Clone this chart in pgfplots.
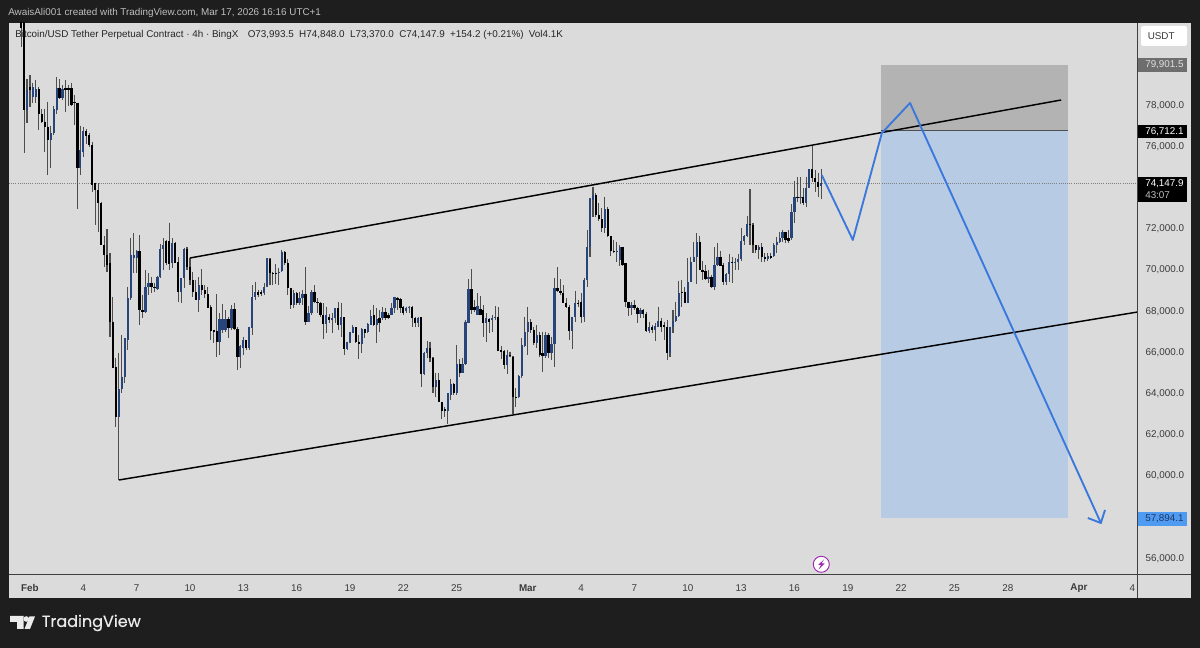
\documentclass[border=0pt]{standalone}
\usepackage{fontspec}
\setmainfont{Liberation Sans}
\newfontfamily\tvfont[FakeBold=0.4]{Poppins}
\usepackage{pgfplots}
\usepackage{pgfplotstable}
\pgfplotsset{compat=1.18}
\definecolor{tvdark}{HTML}{1E1E1E}
\definecolor{panel}{HTML}{DBDBDB}
\definecolor{txt}{HTML}{3A3A3A}
\definecolor{upb}{HTML}{27457A}
\definecolor{wick}{HTML}{4E4E4E}
\definecolor{proj}{HTML}{3A78DC}
\definecolor{zoneg}{HTML}{B3B3B3}
\definecolor{zoneb}{HTML}{B8CBE4}
\definecolor{pbox}{HTML}{6E6E6E}
\definecolor{bbox}{HTML}{4F9BF2}
\definecolor{bolt}{HTML}{9C27B0}
\pgfplotstableread{
i o h l c
0 82400 83000 80784 81700
1 83500 84000 75636 77708
2 77708 79198 77061 78680
3 78809 79392 77870 78680
4 78323 79036 78032 78809
5 78323 79165 78032 78712
6 78712 78842 76737 77514
7 77514 77741 77061 77142
8 77142 77741 75685 76899
9 76899 78113 74551 76251
10 76251 76931 74875 76575
11 76575 77903 76494 77741
12 77708 79295 77514 78761
13 78761 79198 78226 78275
14 78275 78922 78200 78712
15 78761 79165 77627 78680
16 78761 78922 77903 78680
17 78761 79036 77903 77951
18 78113 78437 76980 78032
19 78064 78064 72885 74875
20 74875 76931 74551 75765
21 75685 76899 75442 76705
22 76705 76769 76057 76445
23 76494 76575 75927 76008
24 76008 76170 73742 74065
25 74146 74179 72123 73823
26 73823 74146 71799 73175
27 73175 73256 71151 71151
28 71151 71588 70099 70666
29 70666 71912 69856 70180
30 70261 70779 66699 67428
31 67428 68642 65161 65161
32 65242 65647 62328 62813
33 62813 65922 59738 64141
34 64141 66780 63947 64756
35 64756 66618 64432 66618
36 66537 69127 66051 68561
37 68561 71475 68480 70666
38 70504 71718 69775 70666
39 70504 70908 69775 70860
40 70860 71637 67266 67994
41 67994 68723 67589 67913
42 67913 69937 67865 69127
43 69127 69775 68723 69322
44 69322 69613 68804 69127
45 69127 69290 68885 69047
46 68998 69646 68966 69613
47 69613 71200 69532 70941
48 70941 71475 69937 71151
49 71362 71394 70180 70261
50 71362 72236 69937 70228
51 70261 71475 70018 71265
52 71265 71313 70261 70293
53 70342 70552 68399 68885
54 68885 69532 68318 69532
55 69532 70989 69047 70941
56 70941 71070 69937 70099
57 70099 70504 69208 69451
58 69451 69856 68642 68885
59 68885 69451 68480 68480
60 68480 69581 67913 69208
61 69208 69969 68723 68966
62 68966 69208 68561 68771
63 68771 69127 68075 68075
64 68124 68237 66537 66990
65 67023 67023 66375 66941
66 66990 68771 65695 66456
67 66456 67832 65808 67541
68 67023 68286 66861 67541
69 67023 67994 66942 67541
70 67541 67670 66618 67104
71 67104 68237 67023 68027
72 68027 68350 67023 67055
73 67055 67152 65080 65728
74 65728 66294 65161 66246
75 66132 66699 65808 66537
76 66537 66537 66051 66132
77 66132 67185 66051 67152
78 67104 69208 66780 68642
79 68642 69370 68480 68885
80 68885 68966 68610 68723
81 68885 68966 68674 68771
82 68836 69290 68723 69127
83 69160 70504 69127 70504
84 70455 70504 69208 69775
85 69808 69856 69208 69743
86 69808 70212 69257 69743
87 69775 70018 69208 69856
88 69905 70908 69856 70827
89 70827 70876 70180 70261
90 70293 70455 68723 69047
91 69047 69047 68027 68238
92 68238 68966 68076 68804
93 68804 68885 68238 68318
94 68318 68885 68238 68561
95 68561 68966 68238 68772
96 68772 70067 67266 67428
97 67428 68189 67428 67865
98 67865 68966 67752 68885
99 68885 69209 68318 68399
100 68399 68561 67833 68318
101 68318 68399 67671 67752
102 67752 68318 66570 67315
103 67315 68156 66861 67752
104 67671 67800 67347 67509
105 67509 67865 66861 67590
106 67590 68076 67347 68076
107 68076 68399 67023 67266
108 67266 68318 66699 67671
109 67639 67639 65809 66084
110 66084 66457 66052 66457
111 66457 66942 66376 66942
112 66893 67266 66861 67153
113 67153 67185 66376 66457
114 66457 66780 65598 66343
115 66343 67104 65890 67056
116 67056 67056 66618 66861
117 66941 67347 66861 67315
118 67266 67995 67266 67703
119 67752 68238 67218 67266
120 67266 68076 66408 67541
121 67590 67995 66942 67347
122 67590 68156 67509 67914
123 67914 68076 67509 67590
124 67752 67833 67541 67590
125 67752 68318 67752 68076
126 68076 68642 67833 68610
127 68561 68610 67995 68480
128 68513 68561 67833 68076
129 68124 68189 67752 67865
130 67962 68156 67833 68076
131 68076 68189 67833 68156
132 68156 68189 67185 67590
133 67590 67671 67185 67347
134 67347 67639 67185 67590
135 67639 67639 64271 64886
136 64886 65971 64838 65922
137 65922 66505 65647 66133
138 66133 66457 65485 65647
139 65647 65696 63947 64271
140 64271 64919 63785 64595
141 64595 64951 63542 63542
142 63542 63542 62684 63105
143 63170 63299 62814 63105
144 63105 63947 62458 63947
145 63866 64627 63623 64401
146 64401 64465 63866 63947
147 63947 66295 63866 65372
148 65372 65598 64757 64951
149 64951 65647 64919 65372
150 65372 67509 65323 67428
151 67347 69484 67347 68998
152 68998 69970 67800 67995
153 68124 68480 67914 67995
154 67752 68804 67752 68189
155 68027 68675 67752 67752
156 67995 68237 66699 67347
157 67347 67833 66457 67590
158 67541 67590 66861 67428
159 67509 67752 66942 67590
160 67590 68189 67509 67639
161 67639 68124 66019 66020
162 66052 66246 65598 65971
163 66020 66052 65113 65323
164 65323 66052 64886 65809
165 65809 65971 65696 65760
166 65728 65760 62943 63785
167 63785 64190 63299 63753
168 63753 64838 63704 64789
169 64789 66619 64676 66295
170 66246 67671 66214 66942
171 66942 68157 65809 67428
172 67428 67541 66861 67023
173 67023 67185 66295 66376
174 66376 67266 66133 66780
175 66780 66942 65728 65809
176 65890 66942 65000 65760
177 65760 66942 65647 66780
178 66780 66861 65647 65922
179 65890 66700 65566 66343
180 66343 69533 65242 69047
181 69047 70067 68885 68934
182 68934 69484 68723 68804
183 68804 69209 68318 68318
184 68318 68561 68076 68124
185 68124 68238 66538 66991
186 66991 67671 66084 67638
187 67638 68934 67428 68351
188 68351 68480 68156 68286
189 68399 68804 67379 67638
190 67638 69532 67428 69451
191 69451 71880 69128 71070
192 71070 73418 70585 73369
193 73337 73985 72528 73580
194 73580 73661 72495 72609
195 72609 73175 72333 72398
196 72398 72932 71799 71961
197 71961 73499 71718 72884
198 72884 73013 71556 71589
199 71589 71589 70617 70876
200 70876 71394 70747 70795
201 70795 71313 70342 70876
202 70423 71151 70131 71038
203 71038 71038 70131 70180
204 70261 70261 68156 68399
205 68399 68399 67703 68075
206 68075 68399 67752 68237
207 68237 68480 67994 68075
208 68075 68124 67379 67800
209 67800 68075 67590 67994
210 67994 68027 67590 67800
211 67800 67913 66942 66991
212 66991 67428 66861 67185
213 67185 67266 66861 67023
214 67023 67347 66505 67217
215 67185 68156 67185 67476
216 67476 67590 66942 67185
217 67266 67428 66537 67152
218 67185 67509 65566 65922
219 65922 67185 65728 67185
220 67152 67994 66861 67476
221 67476 68399 67428 67703
222 67703 69419 67671 68804
223 68885 69451 68156 68804
224 68885 69128 68318 68351
225 68351 70504 68351 69371
226 69371 70585 69419 70342
227 70342 71313 70342 70585
228 70585 71718 69257 71313
229 71313 71588 69937 69937
230 69937 70390 69452 69856
231 69905 70180 69452 69484
232 69484 69937 69290 69613
233 69581 69694 69047 69095
234 69095 71038 68966 70180
235 70180 71265 70131 70585
236 70585 70876 70131 70131
237 70180 70293 69209 69371
238 69371 69775 69209 69743
239 69743 70715 69371 70342
240 70342 70585 69322 70261
241 70261 70504 69937 70342
242 70342 70715 69937 70455
243 70455 71961 70390 71362
244 71362 71637 71151 71589
245 71589 72560 71556 72171
246 72171 73855 71151 72122
247 72122 72204 70779 71151
248 71151 71151 70747 70909
249 70909 71151 70455 71070
250 71070 71232 70342 70585
251 70585 70747 70342 70455
252 70455 70779 70390 70617
253 70617 70747 70455 70504
254 70617 71232 70585 71151
255 71151 71556 70779 71313
256 71313 71799 71232 71475
257 71475 71880 71313 71799
258 71799 71799 71232 71394
259 71475 71880 71232 71362
260 71475 73143 71394 72770
261 72770 74276 72236 73499
262 73499 74438 73256 73418
263 73418 74438 73143 73499
264 73499 73904 73094 73208
265 73208 74470 72981 73904
266 73904 74827 73904 74827
267 74827 76008 74228 74389
268 74389 74794 73742 74228
269 74228 74665 73499 73985
270 73993.5 74848 73370 74147.9
}\candles
\newcommand{\lab}[4][]{\node[anchor=west,inner sep=0pt,font=\fontsize{7.4pt}{9pt}\selectfont,#1] at (#2,648-#3) {#4};}
\begin{document}
\begin{tikzpicture}[x=0.75pt,y=0.75pt]
\useasboundingbox (0,0) rectangle (1200,648);
\fill[tvdark] (0,0) rectangle (1200,648);
\fill[panel] (8.5,50) rectangle (1191,625);
\begin{axis}[
  at={(6.75pt,54.75pt)},anchor=south west,scale only axis,
  width=846.4pt,height=414pt,
  xmin=-4.08,xmax=376.78,ymin=55124,ymax=81934,
  axis line style={draw=none},
  major tick length=0pt,
  xtick={3,21,39,57,75,93,111,129,147,171,189,207,225,243,261,279,297,315,333,357,375},
  xticklabels={\textbf{Feb},4,7,10,13,16,19,22,25,\textbf{Mar},4,7,10,13,16,19,22,25,28,\textbf{Apr},4},
  xticklabel style={font=\fontsize{7.4pt}{9pt}\selectfont,text=txt,anchor=center,yshift=-9.7pt},
  ytick={56000,60000,62000,64000,66000,68000,70000,72000,76000,78000},
  yticklabel pos=right,
  yticklabel style={font=\fontsize{7.4pt}{9pt}\selectfont,text=txt,anchor=west,xshift=2.5pt,yshift=-1pt,
    /pgf/number format/.cd,fixed,fixed zerofill,precision=1,1000 sep={,},assume math mode=true},
  scaled y ticks=false,
]
\addplot[fill=zoneg,draw=none,forget plot] coordinates {(290.2,79901.5)(353.3,79901.5)(353.3,76712.1)(290.2,76712.1)} --cycle;
\addplot[fill=zoneb,draw=none,forget plot] coordinates {(290.2,76712.1)(353.3,76712.1)(353.3,57894.1)(290.2,57894.1)} --cycle;
\addplot[color=wick,line width=0.6pt,forget plot] coordinates {(290.2,76712.1)(353.3,76712.1)};
\addplot[color=black!50,line width=0.6pt,densely dotted,forget plot] coordinates {(-4.08,74147.9)(376.78,74147.9)};
% wicks
\addplot[draw=none,mark=none,forget plot,error bars/.cd,y dir=both,y explicit,
  error mark=none,error bar style={color=wick,line width=0.8pt}]
  table[x=i,y=h,y error plus expr=0,y error minus expr=\thisrow{h}-\thisrow{l}] {\candles};
% up bodies
\addplot[draw=none,mark=none,forget plot,error bars/.cd,y dir=both,y explicit,
  error mark=none,error bar style={color=upb,line width=1.7pt}]
  table[x expr={\thisrow{c}>=\thisrow{o}?\thisrow{i}:nan},y=c,y error plus expr=0,y error minus expr=\thisrow{c}-\thisrow{o}] {\candles};
% down bodies
\addplot[draw=none,mark=none,forget plot,error bars/.cd,y dir=both,y explicit,
  error mark=none,error bar style={color=black,line width=1.7pt}]
  table[x expr={\thisrow{c}<\thisrow{o}?\thisrow{i}:nan},y=o,y error plus expr=0,y error minus expr=\thisrow{o}-\thisrow{c}] {\candles};
% trend lines
\addplot[color=black,line width=1.1pt,forget plot] coordinates {(57,70520)(351,78194)};
\addplot[color=black,line width=1.1pt,forget plot] coordinates {(33,59738)(376.78,67897)};
% projected path
\addplot[color=proj,line width=1.4pt,forget plot,line join=round] coordinates {(270.2,74551)(280.7,71395)(290.5,76591)(300,78049)(364.4,57650)};
\addplot[color=proj,line width=1.4pt,forget plot,line join=round] coordinates {(360,57892)(364.4,57650)(365.8,58281)};
\end{axis}
% frame lines of the chart
\draw[color=black!75,line width=0.75pt] (1137.5,50) -- (1137.5,625);
\draw[color=black!75,line width=0.75pt] (8.5,73) -- (1191,73);
% header
\lab[text=black!25]{8}{13}{AwaisAli001 created with TradingView.com, Mar 17, 2026 16:16 UTC+1}
\lab[text=black!85]{15}{35}{Bitcoin/USD Tether Perpetual Contract · 4h · BingX\hspace{7pt}O73,993.5\hspace{4pt}H74,848.0\hspace{4pt}L73,370.0\hspace{4pt}C74,147.9\hspace{4pt}+154.2 (+0.21\%)\hspace{4pt}Vol4.1K}
% price scale boxes
\fill[white,rounded corners=1.5pt] (1141,648-46) rectangle (1187,648-26);
\lab[text=txt]{1147.5}{36}{USDT}
\fill[pbox] (1138,648-72) rectangle (1187,648-58);
\lab[text=black!12]{1145}{65}{79,901.5}
\fill[black] (1138,648-138) rectangle (1187,648-125);
\lab[text=white]{1145}{131.5}{76,712.1}
\fill[black] (1138,648-202) rectangle (1187,648-177);
\lab[text=white]{1145}{184}{74,147.9}
\lab[text=black!25]{1145}{195}{43:07}
\fill[bbox] (1138,648-526) rectangle (1187,648-512);
\lab[text=upb!80!black]{1145}{519}{57,894.1}
% bolt icon
\fill[white] (821.3,648-564.3) circle (8);
\draw[bolt,line width=0.7pt] (821.3,648-564.3) circle (8);
\fill[bolt] (824,648-559.5) -- (818,648-565) -- (821,648-565) -- (818.5,648-569.5) -- (824.5,648-563.5) -- (821.5,648-563.5) -- cycle;
% logo
\fill[white!92!black] (10,648-616) -- (23.5,648-616) -- (23.5,648-629) -- (17,648-629) -- (17,648-622) -- (10,648-622) -- cycle;
\fill[white!92!black] (26.3,648-619) circle (2.8);
\fill[white!92!black] (29.5,648-616.5) -- (35,648-616.5) -- (30,648-629) -- (24.5,648-629) -- cycle;
\node[anchor=west,inner sep=0pt,text=white!92!black,font=\tvfont\fontsize{12pt}{14pt}\selectfont] at (41.5,648-623) {TradingView};
\end{tikzpicture}
\end{document}
